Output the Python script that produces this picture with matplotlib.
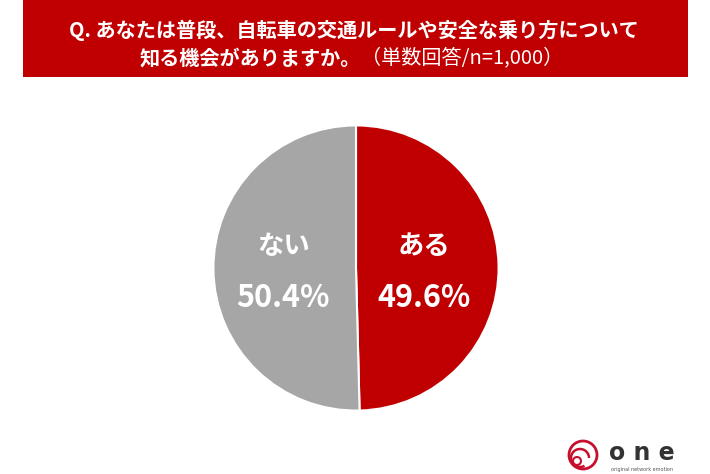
import matplotlib.pyplot as plt
from matplotlib.patches import Rectangle, Circle, Arc

plt.rcParams['font.family'] = ['Noto Sans CJK JP', 'DejaVu Sans']

# data
labels = ['ある', 'ない']
values = [49.6, 50.4]
colors = ['#C00000', '#A6A6A6']

title_line1 = 'Q. あなたは普段、自転車の交通ルールや安全な乗り方について'
title_line2_bold = '知る機会がありますか。'
title_line2_note = '（単数回答/n=1,000）'

W, H = 710, 474
fig = plt.figure(figsize=(W / 100, H / 100), dpi=100)
fig.patch.set_facecolor('white')

# title banner
fig.patches.append(Rectangle((23 / W, 1 - 77 / H), 665 / W, 77 / H,
                             transform=fig.transFigure, facecolor='#C00000',
                             edgecolor='none'))
fig.text(354 / W, 1 - 30 / H, title_line1, color='white', fontsize=14.5,
         fontweight='bold', ha='center', va='center')
fig.text(361 / W, 1 - 58 / H, title_line2_bold, color='white', fontsize=14.5,
         fontweight='bold', ha='right', va='center')
fig.text(361 / W, 1 - 58 / H, title_line2_note, color='white', fontsize=14.5,
         ha='left', va='center')

# pie
cx, cy, r = 356, 268, 144
ax = fig.add_axes([(cx - r) / W, (H - cy - r) / H, 2 * r / W, 2 * r / H])
wedges, _ = ax.pie(values, colors=colors, startangle=90, counterclock=False,
                   wedgeprops=dict(edgecolor='white', linewidth=1.5))
ax.set_xlim(-1.01, 1.01)
ax.set_ylim(-1.01, 1.01)
ax.set_aspect('equal')

label_pos = [(0.48, 0.15), (-0.51, 0.15)]
for (lx, ly), lab, v in zip(label_pos, labels, values):
    ax.text(lx, ly, lab, color='white', fontsize=19, fontweight='bold',
            ha='center', va='center')
    ax.text(lx, ly - 0.36, f'{v}%', color='white', fontsize=22,
            fontweight='bold', ha='center', va='center')

# logo
lax = fig.add_axes([560 / W, 0, 150 / W, 40 / H])
lax.set_xlim(0, 150)
lax.set_ylim(0, 40)
lax.axis('off')
lax.add_patch(Circle((23, 19), 14, fill=False, edgecolor='#C8102E', linewidth=2))
lax.add_patch(Arc((20, 16), 18, 18, theta1=0, theta2=300, edgecolor='#C8102E', linewidth=1.8))
lax.add_patch(Circle((17, 13), 4, fill=False, edgecolor='#C8102E', linewidth=1.5))
lax.text(82, 21, 'o n e', fontsize=17, fontweight='bold', color='#333333',
         ha='center', va='center', family='DejaVu Sans')
lax.text(82, 5, 'original network emotion', fontsize=3.5, color='#555555',
         ha='center', va='center', family='DejaVu Sans')

fig.savefig('out.png', dpi=100)
